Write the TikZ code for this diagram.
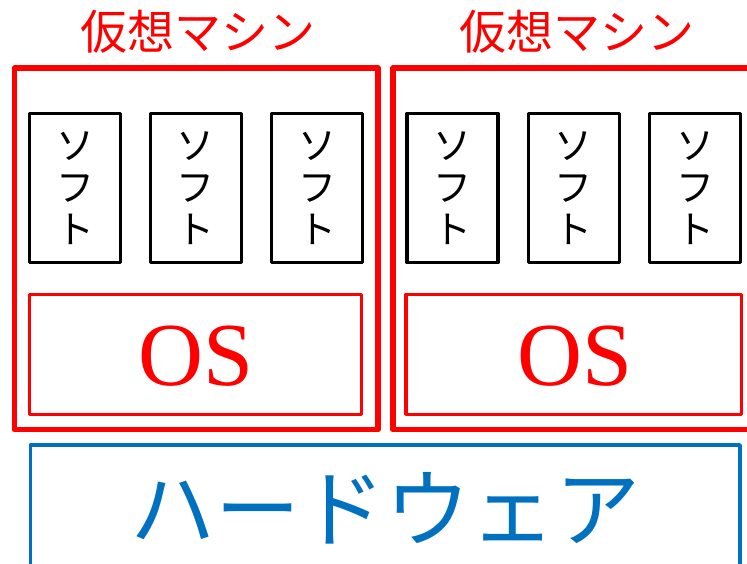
\documentclass[tikz,border=0pt]{standalone}
\usepackage{fontspec}
\setmainfont{Liberation Serif}
\newfontfamily\jp{Noto Sans CJK JP}
\definecolor{hwblue}{HTML}{0070C0}
\begin{document}
\begin{tikzpicture}[x=1pt,y=-1pt,
  vmbox/.style={draw=red, line width=5.5pt, rectangle, line join=round, inner sep=0pt, outer sep=0pt},
  softbox/.style={draw=black, line width=3.3pt, rectangle, line join=round, inner sep=0pt, outer sep=0pt, minimum width=91pt, minimum height=149pt},
  osbox/.style={draw=red, line width=3.3pt, rectangle, line join=round, inner sep=0pt, outer sep=0pt, minimum width=332pt, minimum height=120pt},
  hwbox/.style={draw=hwblue, line width=3.8pt, rectangle, line join=round, inner sep=0pt, outer sep=0pt},
  vmlabel/.style={text=red, font=\jp\fontsize{47}{50}\selectfont, inner sep=0pt},
  softlabel/.style={text=black, font=\jp\fontsize{38}{42}\selectfont, align=center, inner sep=0pt},
  oslabel/.style={text=red, font=\fontsize{90}{96}\selectfont, inner sep=0pt},
  hwlabel/.style={text=hwblue, font=\jp\fontsize{85}{90}\selectfont, inner sep=0pt}
]
\useasboundingbox (0,0) rectangle (747,564);
\clip (0,0) rectangle (747,564);

% virtual machine frames
\node[vmbox, minimum width=363.5pt, minimum height=361.7pt] (vm1) at (196.25,248.85) {};
\node[vmbox, minimum width=380pt, minimum height=361.7pt] (vm2) at (583,248.85) {};
\node[vmlabel] (vm1t) at (198,32) {仮想マシン};
\node[vmlabel] (vm2t) at (577,32) {仮想マシン};

% software boxes
\foreach \i/\x in {1/75, 2/195.8, 3/317, 4/452.4, 5/573.9, 6/695} {
  \node[softbox] (s\i) at (\x,188) {};
  \node[softlabel] (s\i t) at (\x,188) {ソ\\フ\\ト};
}

% OS boxes
\node[osbox] (os1) at (195.8,354.4) {};
\node[oslabel] (os1t) at (196,356) {OS};
\node[osbox, minimum width=335.7pt] (os2) at (573.9,354.4) {};
\node[oslabel] (os2t) at (575,356) {OS};

% hardware
\node[hwbox, minimum width=709.5pt, minimum height=150pt] (hw) at (385.25,520) {};
\node[hwlabel] (hwt) at (385,508) {ハードウェア};
\end{tikzpicture}
\end{document}
